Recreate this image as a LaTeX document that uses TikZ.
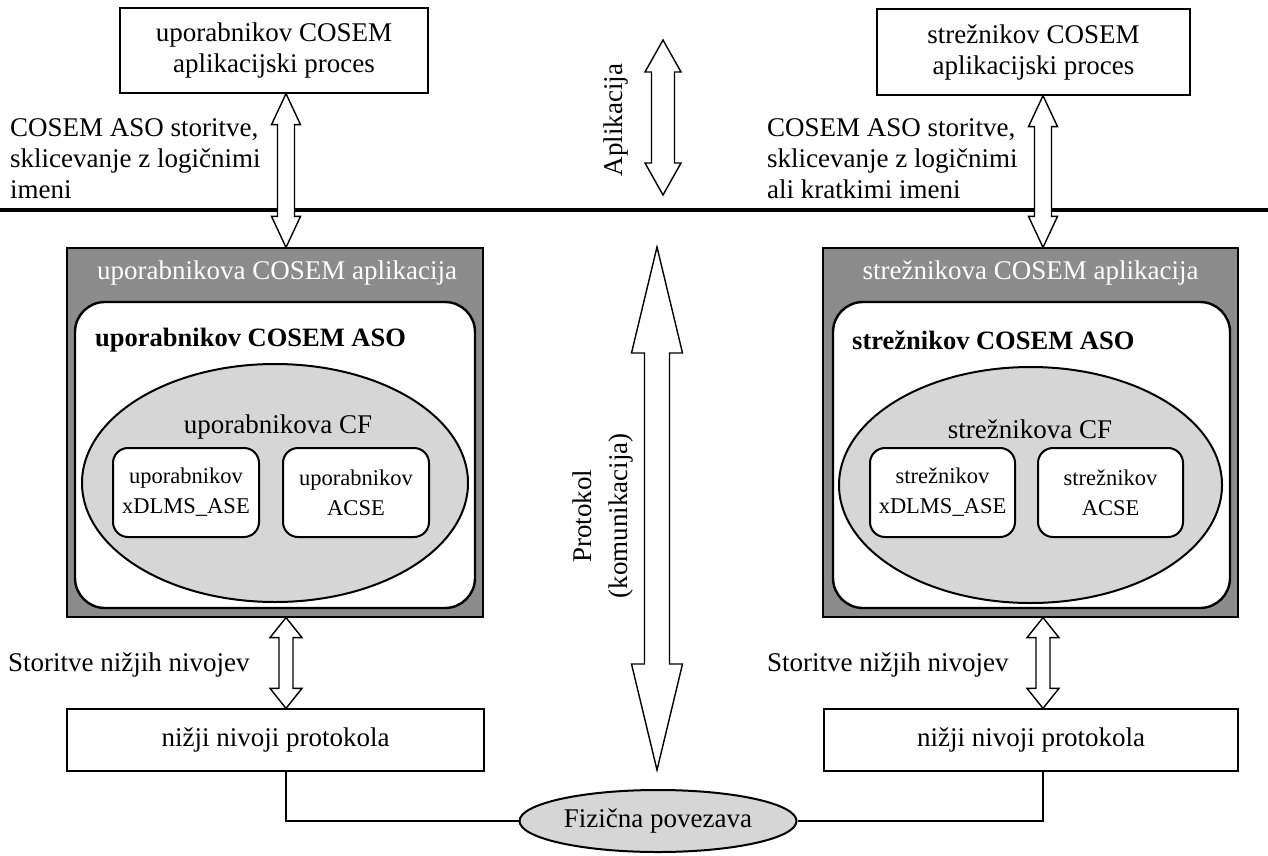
\documentclass[tikz,border=0pt]{standalone}
\usepackage{fontspec}
\setmainfont{Liberation Serif}
\usetikzlibrary{calc,shapes.geometric}
\definecolor{appgray}{gray}{0.55}
\definecolor{cfgray}{gray}{0.84}
\begin{document}
\begin{tikzpicture}[x=1pt,y=-1pt,
  every node/.style={font=\fontsize{27pt}{31pt}\selectfont, inner sep=0pt},
  procbox/.style={draw, line width=1.3pt, fill=white, align=center},
  appbox/.style={draw, line width=1.2pt, fill=appgray},
  asobox/.style={draw, line width=2.4pt, fill=white, rounded corners=30pt},
  cfell/.style={ellipse, draw, line width=2pt, fill=cfgray},
  asebox/.style={draw, line width=2pt, fill=white, rounded corners=15pt, align=center,
    font=\fontsize{22.5pt}{30pt}\selectfont},
  lbl/.style={align=left, anchor=west},
  link/.style={draw, line width=1.4pt},
  % hollow double-headed block arrow: #1 half shaft, #2 half head, #3 head length
  fat/.style n args={3}{draw, line width=1.4pt, fill=white,
    to path={let \p1=(\tikztostart), \p2=(\tikztotarget) in
      (\x1,\y1) -- (\x1+#2,\y1-#3) -- (\x1+#1,\y1-#3) -- (\x1+#1,\y2+#3)
      -- (\x1+#2,\y2+#3) -- (\x1,\y2) -- (\x1-#2,\y2+#3) -- (\x1-#1,\y2+#3)
      -- (\x1-#1,\y1-#3) -- (\x1-#2,\y1-#3) -- cycle}}
]
\useasboundingbox[fill=white] (0,0) rectangle (1268,856);

% application / communication divider
\coordinate (divL) at (0,210);
\coordinate (divR) at (1268,210);
\draw[line width=3.5pt] (divL) -- (divR);

% arrow axes
\coordinate (aL) at (286,0);
\coordinate (aR) at (1043,0);

% application processes
\node[procbox, minimum width=308pt, minimum height=85pt] (uap) at (274,50.5)
  {uporabnikov COSEM\\aplikacijski proces};
\node[procbox, minimum width=313pt, minimum height=86pt] (sap) at (1033.5,52)
  {strežnikov COSEM\\aplikacijski proces};

\node[lbl] (uaso) at (10,159) {COSEM ASO storitve,\\sklicevanje z logičnimi\\imeni};
\node[lbl] (saso) at (767,159) {COSEM ASO storitve,\\sklicevanje z logičnimi\\ali kratkimi imeni};

% COSEM applications
\node[appbox, minimum width=416pt, minimum height=369pt] (gL) at (275,432.5) {};
\node[appbox, minimum width=415pt, minimum height=369pt] (gR) at (1030.5,432.5) {};
\node[text=white] (hL) at (277,273) {uporabnikova COSEM aplikacija};
\node[text=white] (hR) at (1030.5,273) {strežnikova COSEM aplikacija};

\node[asobox, minimum width=400pt, minimum height=306pt] (wL) at (275,455) {};
\node[asobox, minimum width=397pt, minimum height=306pt] (wR) at (1031.5,455) {};
\node[lbl, font=\fontsize{26.5pt}{31pt}\selectfont\bfseries] (tL) at (95,340) {uporabnikov COSEM ASO};
\node[lbl, font=\fontsize{26.5pt}{31pt}\selectfont\bfseries] (tR) at (852,340) {strežnikov COSEM ASO};

\node[cfell, minimum width=386pt, minimum height=238pt] (cfL) at (275,483) {};
\node[cfell, minimum width=383pt, minimum height=236pt] (cfR) at (1030.5,485) {};
\node (cfLt) at (278,427) {uporabnikova CF};
\node (cfRt) at (1030,429) {strežnikova CF};

\node[asebox, minimum width=146pt, minimum height=89pt] (xL) at (186,492.5) {uporabnikov\\xDLMS\_ASE};
\node[asebox, minimum width=146pt, minimum height=89pt] (cL) at (356,492.5) {uporabnikov\\ACSE};
\node[asebox, minimum width=145pt, minimum height=89pt] (xR) at (942.5,492.5) {strežnikov\\xDLMS\_ASE};
\node[asebox, minimum width=145pt, minimum height=89pt] (cR) at (1110.5,492.5) {strežnikov\\ACSE};

% lower layers
\node[procbox, minimum width=417pt, minimum height=62pt] (lowL) at (275.5,740) {nižji nivoji protokola};
\node[procbox, minimum width=414pt, minimum height=62pt] (lowR) at (1031,740) {nižji nivoji protokola};
\node[lbl] (sL) at (8,665) {Storitve nižjih nivojev};
\node[lbl] (sR) at (767,665) {Storitve nižjih nivojev};

% physical link
\node[ellipse, draw, line width=2pt, fill=cfgray, minimum width=277pt, minimum height=62pt] (fiz) at (658,821)
  {Fizična povezava};
\draw[link] (aL |- lowL.south) |- (fiz.west);
\draw[link] (aR |- lowR.south) |- (fiz.east);

% service arrows
\draw[fat={8.5}{14.5}{31}] (aL |- uap.south) to (aL |- gL.north);
\draw[fat={8.5}{14.5}{31}] (aR |- sap.south) to (aR |- gR.north);
\draw[fat={7}{16}{20}] (aL |- gL.south) to (aL |- lowL.north);
\draw[fat={7}{16}{20}] (aR |- gR.south) to (aR |- lowR.north);

% layer arrows
\coordinate (apT) at (663,40);
\coordinate (apB) at (663,195);
\draw[fat={11.5}{18}{32}] (apT) to (apB);
\node[rotate=90] (apl) at (616,120) {Aplikacija};

\coordinate (prT) at (657,247);
\coordinate (prB) at (657,770);
\draw[fat={12.5}{25.5}{106}] (prT) to (prB);
\node[rotate=90, align=center, font=\fontsize{27pt}{36pt}\selectfont] (prl) at (603,516) {Protokol\\(komunikacija)};
\end{tikzpicture}
\end{document}
